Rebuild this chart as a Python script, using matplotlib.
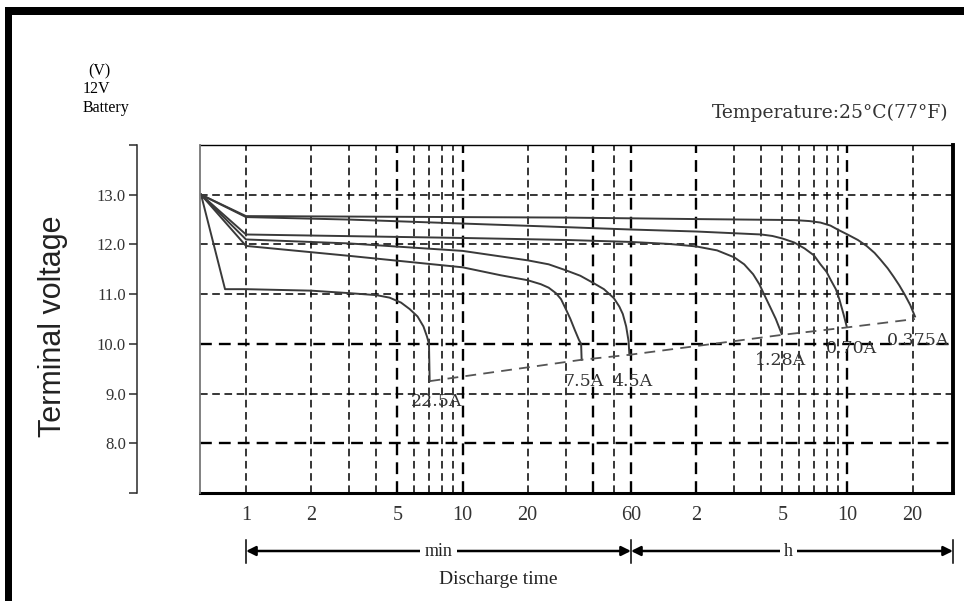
import matplotlib
matplotlib.use("Agg")
import matplotlib.pyplot as plt
from matplotlib.patches import Rectangle
from matplotlib import transforms

# ── data: discharge curves, time in minutes, terminal voltage in V ───────────

t_22_5 = [0.62, 0.8, 1, 2, 3, 4, 4.6, 5.2, 5.7, 6.2, 6.6, 6.85, 7.0, 7.05]
v_22_5 = [13.0, 11.1, 11.1, 11.07, 11.02, 10.98, 10.93, 10.83, 10.7, 10.55,
          10.35, 10.15, 10.0, 9.25]

t_7_5 = [0.62, 1, 3, 10, 15, 20, 23, 25, 27, 28.5, 30, 31.5, 33, 34.5, 35.3, 35.5]
v_7_5 = [13.0, 11.97, 11.77, 11.54, 11.38, 11.28, 11.2, 11.13, 11.02, 10.9,
         10.7, 10.5, 10.28, 10.08, 10.0, 9.68]

t_4_5 = [0.62, 1, 3, 10, 20, 25, 30, 35, 40, 45, 50, 53, 55, 57, 58.5, 59]
v_4_5 = [13.0, 12.1, 12.02, 11.87, 11.68, 11.6, 11.48, 11.37, 11.23, 11.1,
         10.92, 10.75, 10.6, 10.35, 10.05, 9.78]

t_1_28 = [0.62, 1, 10, 30, 60, 90, 120, 150, 180, 200, 220, 235, 250, 265,
          280, 298]
v_1_28 = [13.0, 12.2, 12.13, 12.09, 12.05, 12.01, 11.96, 11.88, 11.74, 11.6,
          11.4, 11.2, 10.95, 10.72, 10.5, 10.2]

t_0_70 = [0.62, 1, 3, 10, 25, 60, 120, 240, 270, 300, 340, 380, 420, 450,
          480, 500, 530, 550, 575, 595]
v_0_70 = [13.0, 12.55, 12.5, 12.42, 12.36, 12.3, 12.26, 12.2, 12.17, 12.12,
          12.04, 11.92, 11.78, 11.6, 11.45, 11.3, 11.1, 10.9, 10.6, 10.35]

t_0_375 = [0.62, 1, 30, 120, 340, 400, 450, 500, 540, 600, 670, 735, 800, 850,
           920, 980, 1040, 1100, 1170, 1230]
v_0_375 = [13.0, 12.57, 12.54, 12.51, 12.49, 12.47, 12.44, 12.38, 12.3, 12.2,
           12.09, 11.97, 11.83, 11.7, 11.52, 11.35, 11.18, 11.0, 10.78, 10.55]

curves = [(t_22_5, v_22_5), (t_7_5, v_7_5), (t_4_5, v_4_5),
          (t_1_28, v_1_28), (t_0_70, v_0_70), (t_0_375, v_0_375)]

# end-of-discharge (cut-off) line
end_t = [7.05, 35.5, 59, 298, 595, 1230]
end_v = [9.25, 9.68, 9.78, 10.18, 10.33, 10.5]

# curve labels
label_text = ["22.5A", "7.5A", "4.5A", "1.28A", "0.70A", "0.375A"]
label_t = [7.6, 36.4, 61, 293, 623, 1270]
label_v = [8.84, 9.24, 9.24, 9.66, 9.9, 10.06]

# axes ticks
x_ticks = [1, 2, 5, 10, 20, 60, 120, 300, 600, 1200]
x_tick_labels = ["1", "2", "5", "10", "20", "60", "2", "5", "10", "20"]
x_grid = [1, 2, 3, 4, 5, 6, 7, 8, 9, 10, 20, 30, 40, 50, 60,
          120, 180, 240, 300, 360, 420, 480, 540, 600, 1200]
x_grid_bold = [5, 10, 40, 60, 120, 600]
y_ticks = [8.0, 9.0, 10.0, 11.0, 12.0, 13.0]
y_grid_bold = [8.0, 10.0]

X_MIN, X_MAX = 0.613, 1843
SERIF = "Liberation Serif"
INK = "#2a2a2a"

# ── figure ───────────────────────────────────────────────────────────────────

fig = plt.figure(figsize=(9.64, 6.01), dpi=100)
ax = fig.add_axes([200 / 964, 1 - 493 / 601, 753 / 964, 348 / 601])
ax.set_xscale("log")
ax.set_xlim(X_MIN, X_MAX)
ax.set_ylim(7.0, 14.0)

# grid (dashed)
for xg in x_grid:
    lw = 1.7 if xg in x_grid_bold else 1.1
    ax.axvline(xg, color="black", lw=lw, ls=(0, (5, 3)), zorder=1)
for yg in y_ticks:
    lw = 1.7 if yg in y_grid_bold else 1.1
    ax.axhline(yg, color="black", lw=lw, ls=(0, (5, 3)), zorder=1)

# curves
for t, v in curves:
    ax.plot(t, v, color="#3a3a3a", lw=1.4, zorder=3, solid_joinstyle="round")
ax.plot(end_t, end_v, color="#555555", lw=1.3, ls=(0, (6, 4)), zorder=3)

for txt, tx, vy in zip(label_text, label_t, label_v):
    ax.text(tx, vy, txt, ha="center", va="center", fontsize=12.5,
            family="DejaVu Serif", color="#333333", zorder=4)

# x axis
ax.set_xticks(x_ticks)
ax.set_xticklabels(x_tick_labels)
ax.xaxis.set_minor_locator(matplotlib.ticker.NullLocator())
ax.tick_params(axis="x", length=0, pad=9, labelsize=14.5, labelcolor="#333333")
for lab in ax.get_xticklabels():
    lab.set_family(SERIF)

# y axis: detached spine with bracket ends
ax.spines["left"].set_position(("outward", 45.4))
ax.spines["left"].set_linewidth(1.1)
ax.spines["left"].set_color(INK)
ax.set_yticks(y_ticks)
ax.set_yticklabels([f"{v:.1f}" for v in y_ticks])
ax.set_yticks([7.0, 14.0], minor=True)
ax.tick_params(axis="y", which="both", direction="out", length=6, width=1.1,
               color=INK, pad=2, labelsize=12, labelcolor="#333333")
for lab in ax.get_yticklabels():
    lab.set_family(SERIF)

ax.spines["top"].set_linewidth(1.0)
ax.spines["right"].set_linewidth(2.8)
ax.spines["bottom"].set_linewidth(2.2)
ax.plot([0, 0], [0, 1], transform=ax.transAxes, color="#777777", lw=1.3,
        clip_on=False, zorder=5)

ax.text(-0.195, 0.48, "Terminal voltage", transform=ax.transAxes, rotation=90,
        ha="center", va="center", fontsize=22, family="Liberation Sans",
        color="#222222")

# texts above the plot
fig.text(88 / 964, 1 - 71 / 601, "(V)", fontsize=11.5, family=SERIF, va="center")
fig.text(83 / 964, 1 - 89 / 601, "12V", fontsize=11.5, family=SERIF, va="center")
fig.text(83 / 964, 1 - 108 / 601, "Battery", fontsize=11.5, family=SERIF,
         va="center")
fig.text(948 / 964, 1 - 113 / 601, "Temperature:25°C(77°F)", fontsize=13.5,
         family="DejaVu Serif", ha="right", va="center", color="#333333")

# discharge time range arrows (min / h)
blend = transforms.blended_transform_factory(ax.transData, fig.transFigure)
ya = 1 - 551 / 601
for x0, x1, name, xm in [(1, 60, "min", 7.75), (60, X_MAX, "h", 320)]:
    for xe in (x0, x1):
        ax.annotate("", xy=(xe, ya), xytext=(xm, ya), xycoords=blend,
                    textcoords=blend,
                    arrowprops=dict(arrowstyle="-|>", color="black", lw=1.8,
                                    mutation_scale=14, shrinkA=0, shrinkB=0),
                    annotation_clip=False)
    ax.text(xm, ya, name, transform=blend, ha="center", va="center",
            fontsize=13, family=SERIF, color="#222222",
            bbox=dict(facecolor="white", edgecolor="none", pad=3), zorder=6)
for xb in [1, 60, X_MAX]:
    ax.plot([xb, xb], [1 - 540 / 601, 1 - 563 / 601], transform=blend,
            color="black", lw=1.1, clip_on=False)

fig.text(498 / 964, 1 - 580 / 601, "Discharge time", fontsize=14,
         family=SERIF, ha="center", va="center", color="#222222")

# outer black border (top and left)
fig.add_artist(Rectangle((5 / 964, 1 - 15 / 601), 1, 8 / 601,
                         transform=fig.transFigure, color="black", lw=0))
fig.add_artist(Rectangle((5 / 964, 0), 7 / 964, 1 - 8 / 601,
                         transform=fig.transFigure, color="black", lw=0))

fig.savefig("out.png", dpi=100)
